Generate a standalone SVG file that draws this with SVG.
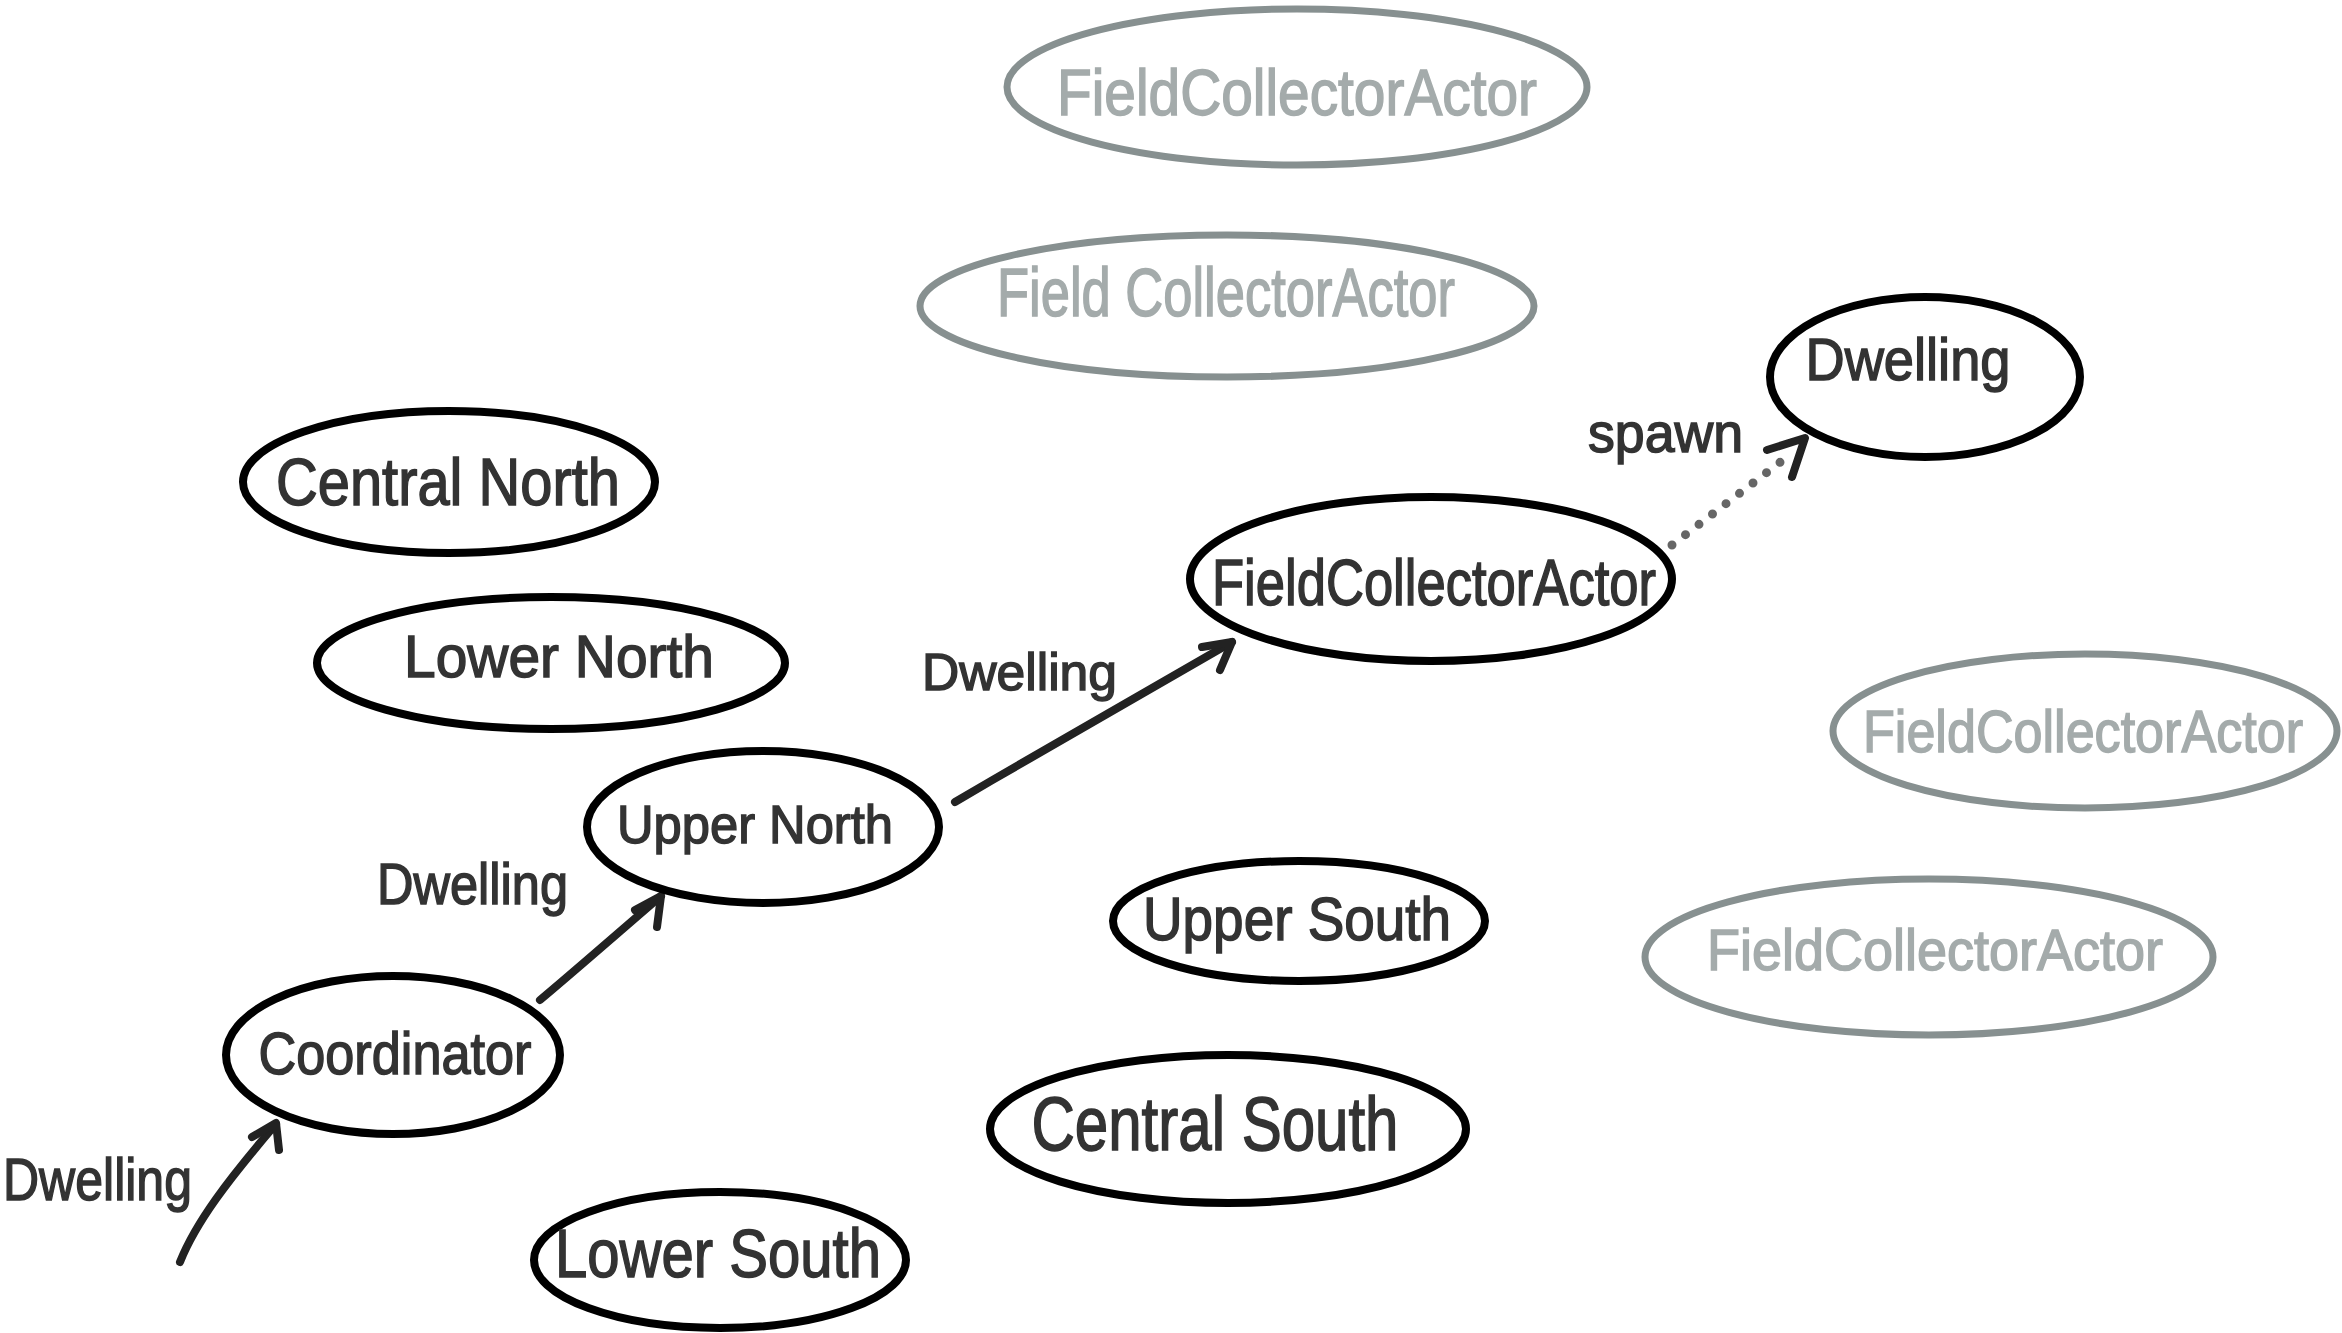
<svg xmlns="http://www.w3.org/2000/svg" width="2342" height="1333" viewBox="0 0 2342 1333">
<style>
.bg{fill:#fff}
.nb{fill:none;stroke:#000;stroke-width:8}
.ng{fill:none;stroke:#879090;stroke-width:7}
.tb{font-family:"Liberation Sans Narrow","Liberation Sans",Arial,sans-serif;fill:#333;stroke:#333;stroke-width:1.5;text-anchor:middle}
.tg{font-family:"Liberation Sans Narrow","Liberation Sans",Arial,sans-serif;fill:#a4abab;stroke:#a4abab;stroke-width:1.5;text-anchor:middle}
.tl{font-family:"Liberation Sans Narrow","Liberation Sans",Arial,sans-serif;fill:#333;stroke:#333;stroke-width:1.5;text-anchor:start}
.edge{fill:none;stroke:#222;stroke-width:8;stroke-linecap:round;stroke-linejoin:round}
.dots{fill:none;stroke:#666;stroke-width:9;stroke-linecap:round;stroke-dasharray:0 17}
</style>
<rect class="bg" x="0" y="0" width="2342" height="1333"/>

<g id="connectors">
  <path class="edge" d="M180,1262 C196,1222 228,1180 276,1124"/>
  <path class="edge" d="M252,1137 L276,1123 L279,1150"/>
  <path class="edge" d="M540,1000 C570,975 610,940 661,896"/>
  <path class="edge" d="M635,910 L661,896 L657,927"/>
  <path class="edge" d="M955,802 C1040,752 1120,706 1232,642"/>
  <path class="edge" d="M1202,647 L1232,642 L1220,670"/>
  <path class="dots" d="M1672,545 L1787,457"/>
  <path class="edge" d="M1767,450 L1805,438 L1792,477"/>
  <text class="tl" x="3" y="1200" font-size="60" textLength="189" lengthAdjust="spacingAndGlyphs">Dwelling</text>
  <text class="tl" x="377" y="904" font-size="58" textLength="191" lengthAdjust="spacingAndGlyphs">Dwelling</text>
  <text class="tl" x="922" y="690" font-size="52" textLength="195" lengthAdjust="spacingAndGlyphs">Dwelling</text>
  <text class="tl" x="1588" y="452" font-size="56" textLength="155" lengthAdjust="spacingAndGlyphs">spawn</text>
</g>

<g id="fca-gray-1">
  <ellipse class="ng" cx="1297" cy="87" rx="290" ry="78"/>
  <text class="tg" x="1297" y="115" font-size="64" textLength="480" lengthAdjust="spacingAndGlyphs">FieldCollectorActor</text>
</g>
<g id="fca-gray-2">
  <ellipse class="ng" cx="1227" cy="306" rx="307" ry="71"/>
  <text class="tg" x="1226" y="316" font-size="68" textLength="458" lengthAdjust="spacingAndGlyphs">Field CollectorActor</text>
</g>
<g id="fca-gray-3">
  <ellipse class="ng" cx="2085" cy="731" rx="252" ry="77"/>
  <text class="tg" x="2083" y="752" font-size="60" textLength="440" lengthAdjust="spacingAndGlyphs">FieldCollectorActor</text>
</g>
<g id="fca-gray-4">
  <ellipse class="ng" cx="1929" cy="957" rx="284" ry="78"/>
  <text class="tg" x="1935" y="970" font-size="58" textLength="456" lengthAdjust="spacingAndGlyphs">FieldCollectorActor</text>
</g>

<g id="dwelling">
  <ellipse class="nb" cx="1925" cy="377" rx="155" ry="80"/>
  <text class="tb" x="1908" y="380" font-size="60" textLength="205" lengthAdjust="spacingAndGlyphs">Dwelling</text>
</g>
<g id="field-collector-actor">
  <ellipse class="nb" cx="1431" cy="579" rx="241" ry="82"/>
  <text class="tb" x="1434" y="605" font-size="64" textLength="444" lengthAdjust="spacingAndGlyphs">FieldCollectorActor</text>
</g>
<g id="central-north">
  <ellipse class="nb" cx="449" cy="482" rx="206" ry="71"/>
  <text class="tb" x="448" y="505" font-size="66" textLength="344" lengthAdjust="spacingAndGlyphs">Central North</text>
</g>
<g id="lower-north">
  <ellipse class="nb" cx="551" cy="663" rx="234" ry="66"/>
  <text class="tb" x="559" y="677" font-size="60" textLength="310" lengthAdjust="spacingAndGlyphs">Lower North</text>
</g>
<g id="upper-north">
  <ellipse class="nb" cx="763" cy="827" rx="176" ry="76"/>
  <text class="tb" x="755" y="843" font-size="54" textLength="276" lengthAdjust="spacingAndGlyphs">Upper North</text>
</g>
<g id="coordinator">
  <ellipse class="nb" cx="393" cy="1055" rx="167" ry="79"/>
  <text class="tb" x="395" y="1074" font-size="60" textLength="273" lengthAdjust="spacingAndGlyphs">Coordinator</text>
</g>
<g id="upper-south">
  <ellipse class="nb" cx="1299" cy="921" rx="186" ry="60"/>
  <text class="tb" x="1297" y="940" font-size="62" textLength="308" lengthAdjust="spacingAndGlyphs">Upper South</text>
</g>
<g id="central-south">
  <ellipse class="nb" cx="1228" cy="1129" rx="238" ry="74"/>
  <text class="tb" x="1215" y="1150" font-size="76" textLength="367" lengthAdjust="spacingAndGlyphs">Central South</text>
</g>
<g id="lower-south">
  <ellipse class="nb" cx="720" cy="1260" rx="186" ry="68"/>
  <text class="tb" x="718" y="1277" font-size="68" textLength="326" lengthAdjust="spacingAndGlyphs">Lower South</text>
</g>
</svg>
